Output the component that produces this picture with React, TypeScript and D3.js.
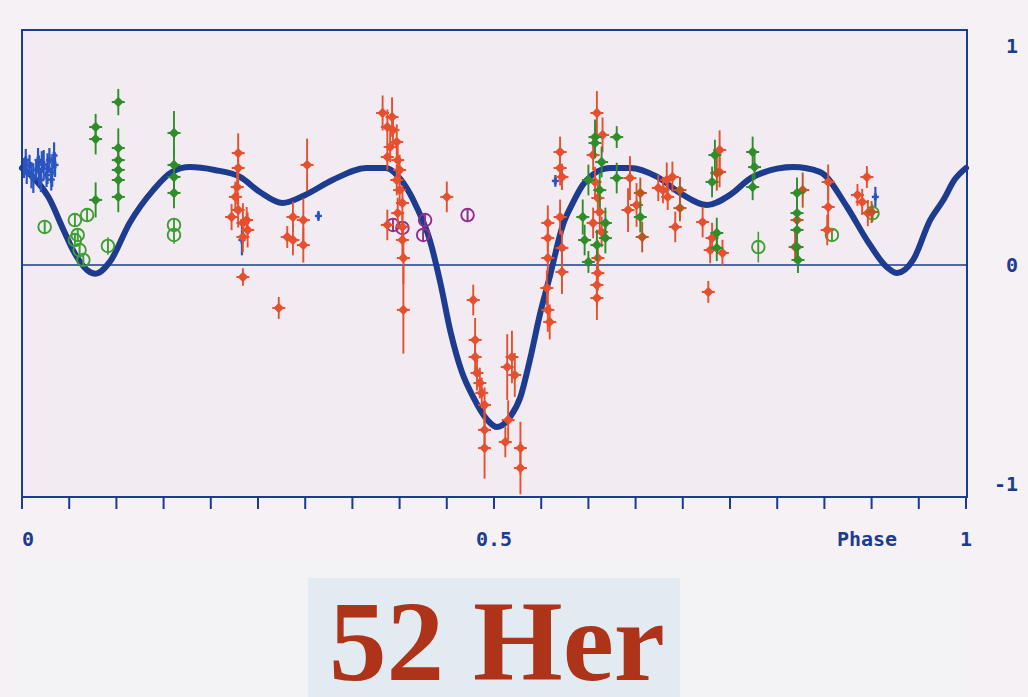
import React from "react";
import * as d3 from "d3";

const W = 1028;
const H = 697;

// Model curve (phase, relative value)
const modelPhase = [0, 0.012, 0.028, 0.044, 0.054, 0.069, 0.078, 0.093, 0.114, 0.139, 0.159, 0.178, 0.204, 0.231, 0.252, 0.276, 0.300, 0.329, 0.365, 0.385, 0.404, 0.418, 0.432, 0.443, 0.454, 0.466, 0.478, 0.493, 0.503, 0.517, 0.528, 0.538, 0.549, 0.559, 0.573, 0.584, 0.594, 0.604, 0.623, 0.644, 0.673, 0.697, 0.726, 0.750, 0.774, 0.817, 0.845, 0.874, 0.895, 0.916, 0.927, 0.944, 0.962, 0.976, 0.988, 1.0];
const modelValue = [0.443, 0.40, 0.31, 0.16, 0.068, -0.023, -0.04, 0.014, 0.192, 0.342, 0.425, 0.447, 0.434, 0.402, 0.333, 0.283, 0.32, 0.388, 0.443, 0.443, 0.374, 0.265, 0.114, -0.078, -0.306, -0.489, -0.603, -0.708, -0.740, -0.694, -0.603, -0.434, -0.219, -0.055, 0.183, 0.288, 0.365, 0.411, 0.443, 0.443, 0.402, 0.329, 0.274, 0.32, 0.402, 0.447, 0.425, 0.265, 0.114, -0.009, -0.037, 0.023, 0.205, 0.297, 0.39, 0.443];

// Observations: [phase, value, error]
type Obs = [number, number, number];

const blueCross: Obs[] = [
  [0.002, 0.443, 0.046], [0.004, 0.480, 0.050], [0.005, 0.425, 0.055], [0.008, 0.457, 0.046],
  [0.010, 0.410, 0.060], [0.012, 0.397, 0.068], [0.015, 0.434, 0.046], [0.017, 0.479, 0.055],
  [0.018, 0.430, 0.070], [0.020, 0.388, 0.055], [0.021, 0.470, 0.050], [0.023, 0.457, 0.068],
  [0.026, 0.411, 0.055], [0.027, 0.440, 0.070], [0.029, 0.479, 0.055], [0.031, 0.390, 0.050],
  [0.032, 0.425, 0.068], [0.034, 0.500, 0.060], [0.035, 0.457, 0.055],
  [0.233, 0.114, 0.07], [0.314, 0.224, 0.023], [0.565, 0.384, 0.027], [0.904, 0.311, 0.046],
];

const greenFilled: Obs[] = [
  [0.078, 0.630, 0.06], [0.078, 0.575, 0.07], [0.078, 0.297, 0.08],
  [0.102, 0.744, 0.06], [0.102, 0.534, 0.09], [0.102, 0.479, 0.07], [0.102, 0.434, 0.07], [0.102, 0.388, 0.07], [0.102, 0.311, 0.07],
  [0.161, 0.603, 0.10], [0.161, 0.457, 0.07], [0.161, 0.402, 0.07], [0.161, 0.329, 0.07],
  [0.607, 0.584, 0.08], [0.607, 0.557, 0.07], [0.614, 0.470, 0.07], [0.612, 0.342, 0.08], [0.618, 0.192, 0.07],
  [0.618, 0.123, 0.07], [0.609, 0.091, 0.07], [0.600, 0.388, 0.07], [0.594, 0.219, 0.08], [0.596, 0.114, 0.07],
  [0.600, 0.014, 0.05], [0.630, 0.584, 0.05], [0.630, 0.397, 0.07], [0.655, 0.219, 0.07],
  [0.734, 0.502, 0.07], [0.731, 0.379, 0.07], [0.736, 0.146, 0.07], [0.736, 0.078, 0.06],
  [0.774, 0.516, 0.07], [0.776, 0.447, 0.06], [0.774, 0.356, 0.06],
  [0.821, 0.329, 0.07], [0.821, 0.237, 0.07], [0.821, 0.160, 0.07], [0.821, 0.082, 0.07], [0.822, 0.023, 0.06],
];

const greenOpen: Obs[] = [
  [0.024, 0.174, 0.03], [0.056, 0.205, 0.03], [0.069, 0.228, 0.03], [0.056, 0.114, 0.03],
  [0.059, 0.137, 0.03], [0.061, 0.068, 0.03], [0.065, 0.023, 0.03], [0.091, 0.087, 0.04],
  [0.161, 0.183, 0.03], [0.161, 0.137, 0.04], [0.780, 0.082, 0.07], [0.858, 0.137, 0.03], [0.901, 0.237, 0.04],
];

const purpleOpen: Obs[] = [
  [0.393, 0.183, 0.03], [0.403, 0.169, 0.03], [0.427, 0.205, 0.03], [0.425, 0.137, 0.03], [0.472, 0.228, 0.03],
];

const redFilled: Obs[] = [
  [0.229, 0.511, 0.09], [0.229, 0.443, 0.07], [0.228, 0.356, 0.08], [0.226, 0.311, 0.07], [0.222, 0.219, 0.06],
  [0.229, 0.251, 0.08], [0.234, 0.192, 0.09], [0.238, 0.205, 0.06], [0.239, 0.160, 0.08], [0.234, 0.128, 0.07],
  [0.234, -0.055, 0.04],
  [0.272, -0.196, 0.05], [0.302, 0.457, 0.12], [0.287, 0.219, 0.07], [0.281, 0.128, 0.05], [0.287, 0.114, 0.07],
  [0.298, 0.205, 0.10], [0.298, 0.091, 0.08],
  [0.382, 0.694, 0.08], [0.392, 0.676, 0.09], [0.387, 0.630, 0.08], [0.393, 0.616, 0.07], [0.397, 0.562, 0.08],
  [0.390, 0.539, 0.07], [0.387, 0.493, 0.06], [0.398, 0.479, 0.07], [0.400, 0.434, 0.07], [0.397, 0.388, 0.07],
  [0.400, 0.342, 0.07], [0.403, 0.283, 0.08], [0.398, 0.237, 0.07], [0.387, 0.183, 0.07], [0.403, 0.174, 0.06],
  [0.403, 0.114, 0.08], [0.404, 0.032, 0.12], [0.404, -0.205, 0.20],
  [0.450, 0.311, 0.07],
  [0.478, -0.160, 0.07], [0.480, -0.342, 0.10], [0.480, -0.420, 0.08], [0.482, -0.493, 0.08], [0.485, -0.539, 0.07],
  [0.487, -0.584, 0.07], [0.490, -0.639, 0.08], [0.490, -0.753, 0.10], [0.490, -0.836, 0.14],
  [0.514, -0.466, 0.15], [0.519, -0.420, 0.12], [0.522, -0.502, 0.10], [0.515, -0.708, 0.09], [0.512, -0.808, 0.07],
  [0.528, -0.836, 0.12], [0.528, -0.927, 0.12],
  [0.556, -0.105, 0.08], [0.557, -0.205, 0.10], [0.559, -0.260, 0.08], [0.557, 0.032, 0.07], [0.557, 0.123, 0.06],
  [0.557, 0.192, 0.08], [0.570, 0.516, 0.07], [0.570, 0.443, 0.08], [0.572, 0.402, 0.06], [0.570, 0.219, 0.08],
  [0.572, 0.078, 0.08], [0.572, -0.032, 0.10],
  [0.609, 0.694, 0.10], [0.615, 0.594, 0.08], [0.605, 0.502, 0.07], [0.607, 0.379, 0.07], [0.610, 0.306, 0.08],
  [0.612, 0.242, 0.08], [0.605, 0.192, 0.07], [0.614, 0.151, 0.07], [0.610, 0.032, 0.08], [0.610, -0.037, 0.08],
  [0.609, -0.091, 0.10], [0.609, -0.151, 0.10],
  [0.644, 0.397, 0.10], [0.642, 0.251, 0.10], [0.651, 0.274, 0.10],
  [0.674, 0.352, 0.06], [0.679, 0.342, 0.06], [0.683, 0.388, 0.08], [0.689, 0.402, 0.07], [0.684, 0.311, 0.06],
  [0.692, 0.174, 0.07],
  [0.739, 0.525, 0.09], [0.739, 0.425, 0.07], [0.721, 0.196, 0.07], [0.731, 0.123, 0.07], [0.729, 0.068, 0.06],
  [0.742, 0.055, 0.06], [0.727, -0.123, 0.05],
  [0.854, 0.379, 0.08], [0.854, 0.265, 0.10], [0.853, 0.160, 0.07],
  [0.885, 0.320, 0.05], [0.890, 0.288, 0.06], [0.895, 0.402, 0.05], [0.896, 0.237, 0.06],
];

const brownFilled: Obs[] = [
  [0.655, 0.329, 0.07], [0.657, 0.128, 0.07], [0.697, 0.342, 0.06], [0.697, 0.260, 0.06], [0.736, 0.420, 0.08],
  [0.821, 0.205, 0.07], [0.819, 0.082, 0.07], [0.827, 0.342, 0.08], [0.900, 0.242, 0.05],
];

const xTickValues = d3.range(0, 21).map((i) => i / 20);
const xLabelValues = [0, 0.5, 1];
const xLabelTexts = ["0", "0.5", "1"];
const yLabelValues = [1, 0, -1];
const yLabelTexts = ["1", "0", "-1"];
const xAxisTitle = "Phase";
const chartTitle = "52 Her";

const NAVY = "#1d3b8f";
const RED = "#e5502e";
const GREEN = "#2f8d2a";
const GREEN_OPEN = "#3f9e34";
const BLUE = "#2a55c0";
const PURPLE = "#8e2f8e";
const BROWN = "#b8571f";

export default function App() {
  const left = 22, right = 967, top = 30, bottom = 497;
  const x = d3.scaleLinear().domain([0, 1]).range([22, 966]);
  const y = d3.scaleLinear().domain([-1, 1]).range([484, 46]);

  const modelPts = modelPhase.map((p, i) => [p, modelValue[i]] as [number, number]);
  const line = d3.line<[number, number]>().x((d) => x(d[0])).y((d) => y(d[1])).curve(d3.curveMonotoneX);

  const errBar = (d: Obs, color: string, w = 1.9) => (
    <line x1={x(d[0])} x2={x(d[0])} y1={y(d[1] + d[2])} y2={y(d[1] - d[2])} stroke={color} strokeWidth={w} />
  );

  const diamond = (d: Obs, color: string, key: string) => {
    const cx = x(d[0]), cy = y(d[1]), r = 5.2;
    return (
      <g key={key}>
        {errBar(d, color)}
        <path d={`M${cx},${cy - r}L${cx + r},${cy}L${cx},${cy + r}L${cx - r},${cy}Z`} fill={color} />
        <line x1={cx - 6.5} x2={cx + 6.5} y1={cy} y2={cy} stroke={color} strokeWidth={2} />
      </g>
    );
  };

  const openCircle = (d: Obs, color: string, key: string) => {
    const cx = x(d[0]), cy = y(d[1]);
    return (
      <g key={key}>
        {errBar(d, color, 1.6)}
        <line x1={cx} x2={cx} y1={cy - 7} y2={cy + 7} stroke={color} strokeWidth={1.6} />
        <circle cx={cx} cy={cy} r={6.3} fill="none" stroke={color} strokeWidth={1.9} />
      </g>
    );
  };

  const cross = (d: Obs, color: string, key: string) => {
    const cx = x(d[0]), cy = y(d[1]);
    return (
      <g key={key}>
        {errBar(d, color, 2.2)}
        <line x1={cx - 3.5} x2={cx + 3.5} y1={cy} y2={cy} stroke={color} strokeWidth={2.4} />
        <line x1={cx} x2={cx} y1={cy - 3.5} y2={cy + 3.5} stroke={color} strokeWidth={3} />
      </g>
    );
  };

  const monoFont = "'DejaVu Sans Mono', monospace";

  return (
    <svg width={W} height={H} style={{ position: "absolute", left: 0, top: 0, background: "#f6f1f5" }}>
      <rect x={0} y={0} width={W} height={H} fill="#f6f1f5" />
      <rect x={left} y={top} width={right - left} height={bottom - top} fill="#f2ebf2" />
      {/* title band */}
      <rect x={18} y={560} width={948} height={137} fill="#f3f3f6" />
      <rect x={308} y={578} width={372} height={119} fill="#e2ebf2" />

      {/* zero line */}
      <line x1={left} x2={right} y1={y(0)} y2={y(0)} stroke={NAVY} strokeWidth={1.5} />

      {/* model curve */}
      <path d={line(modelPts) || ""} fill="none" stroke={NAVY} strokeWidth={6} strokeLinejoin="round" strokeLinecap="round" />

      {/* observations */}
      {blueCross.map((d, i) => cross(d, BLUE, "b" + i))}
      {greenOpen.map((d, i) => openCircle(d, GREEN_OPEN, "go" + i))}
      {purpleOpen.map((d, i) => openCircle(d, PURPLE, "po" + i))}
      {redFilled.map((d, i) => diamond(d, RED, "r" + i))}
      {brownFilled.map((d, i) => diamond(d, BROWN, "br" + i))}
      {greenFilled.map((d, i) => diamond(d, GREEN, "g" + i))}

      {/* frame */}
      <rect x={left} y={top} width={right - left} height={bottom - top} fill="none" stroke={NAVY} strokeWidth={2} />

      {/* bottom ticks */}
      {xTickValues.map((v, i) => (
        <line key={"t" + i} x1={x(v)} x2={x(v)} y1={bottom} y2={bottom + 12} stroke={NAVY} strokeWidth={2} />
      ))}

      {/* x labels */}
      {xLabelValues.map((v, i) => (
        <text key={"xl" + i} x={x(v)} y={546} textAnchor={i === 0 ? "start" : "middle"}
          fontFamily={monoFont} fontWeight="bold" fontSize={20} fill={NAVY}>
          {xLabelTexts[i]}
        </text>
      ))}
      <text x={867} y={546} textAnchor="middle" fontFamily={monoFont} fontWeight="bold" fontSize={20} fill={NAVY}>
        {xAxisTitle}
      </text>

      {/* right labels */}
      {yLabelValues.map((v, i) => (
        <text key={"yl" + i} x={1018} y={y(v) + 7} textAnchor="end"
          fontFamily={monoFont} fontWeight="bold" fontSize={20} fill={NAVY}>
          {yLabelTexts[i]}
        </text>
      ))}

      {/* title */}
      <text x={329} y={680} fontFamily="'Liberation Serif', 'Times New Roman', serif" fontWeight="bold"
        fontSize={114} fill="#ad3418" textLength={336} lengthAdjust="spacingAndGlyphs">
        {chartTitle}
      </text>
    </svg>
  );
}
